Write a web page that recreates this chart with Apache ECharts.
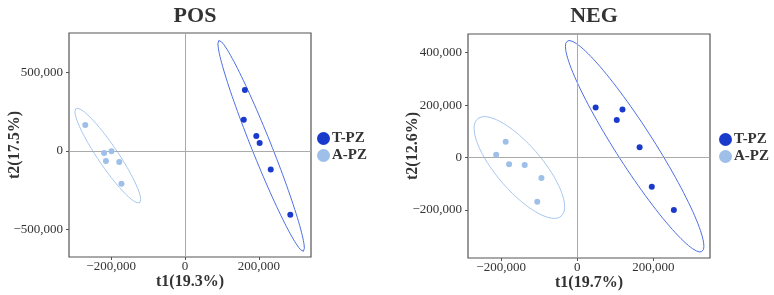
<!DOCTYPE html>
<html>
<head>
<meta charset="utf-8">
<script src="https://cdn.jsdelivr.net/npm/echarts@6/dist/echarts.min.js"></script>
<style>
  html, body { margin: 0; padding: 0; background: #fff; }
  #chart { width: 774px; height: 295px; }
</style>
</head>
<body>
<div id="chart"></div>
<script>
// score plot data (t1, t2)
const groupNames = ['T-PZ', 'A-PZ'];

const posTPZ = [[162000, 390000], [159000, 200000], [193000, 96000], [202000, 51000], [232000, -117000], [285000, -407000]];
const posAPZ = [[-270000, 166000], [-219000, -13000], [-199000, -2000], [-214000, -64000], [-178000, -70000], [-172000, -209000]];

const negTPZ = [[48500, 191000], [119000, 183500], [104000, 143000], [164000, 39000], [196000, -111000], [254000, -200000]];
const negAPZ = [[-188000, 60000], [-213000, 11000], [-179000, -26000], [-138000, -28000], [-94000, -78000], [-105000, -169000]];

// confidence ellipses: centre x, centre y, half width, half height, correlation
const posEllT = [206000, 33000, 117000, 673000, -0.97];
const posEllA = [-209000, -29000, 89000, 302000, -0.93];
const negEllT = [151000, 43000, 182000, 403000, -0.946];
const negEllA = [-152000, -38000, 119000, 194000, -0.772];

const posXTicks = [-200000, 0, 200000];
const posYTicks = [-500000, 0, 500000];
const negXTicks = [-200000, 0, 200000];
const negYTicks = [-200000, 0, 200000, 400000];

const colT = '#1a3acc';
const colA = '#9ebfe8';
const ellColT = '#4d6fe3';
const ellColA = '#a6c6ee';
const FONT = '"Liberation Serif", "DejaVu Serif", serif';

// outline of an ellipse given by its bounding extents and correlation
function ellipseLine(p) {
  const [cx, cy, wx, wy, r] = p;
  const k = Math.sqrt(1 - r * r);
  const pts = [];
  for (let i = 0; i <= 120; i++) {
    const t = (i / 120) * Math.PI * 2;
    pts.push([cx + wx * Math.cos(t), cy + wy * (r * Math.cos(t) + k * Math.sin(t))]);
  }
  return pts;
}

function fmt(v) {
  return (v < 0 ? '\u2212' : '') + Math.abs(v).toLocaleString('en-US');
}

function makeAxis(gridIndex, min, max, ticks, name, nameGap, labelMargin) {
  return {
    type: 'value',
    gridIndex,
    min,
    max,
    name,
    nameLocation: 'middle',
    nameGap,
    nameMoveOverlap: false,
    nameTextStyle: { fontFamily: FONT, fontSize: 16, fontWeight: 'bold', color: '#333' },
    axisLine: { show: false, onZero: false },
    axisTick: { show: true, length: 3, lineStyle: { color: '#555' }, customValues: ticks },
    axisLabel: {
      fontFamily: FONT, fontSize: 13, color: '#333', margin: labelMargin,
      customValues: ticks, formatter: fmt
    },
    splitLine: { show: false }
  };
}

function scatter(name, data, color, idx) {
  return {
    name, type: 'scatter', data, xAxisIndex: idx, yAxisIndex: idx,
    symbolSize: 6, itemStyle: { color, opacity: 1 }, z: 5
  };
}

function ellipse(params, color, idx) {
  return {
    type: 'line', data: ellipseLine(params), xAxisIndex: idx, yAxisIndex: idx,
    showSymbol: false, smooth: false, silent: true,
    lineStyle: { color, width: 1 }, z: 4
  };
}

function zeroLines(idx) {
  return {
    type: 'scatter', data: [], xAxisIndex: idx, yAxisIndex: idx, silent: true,
    markLine: {
      silent: true, symbol: 'none', label: { show: false },
      lineStyle: { color: '#aaa', width: 1, type: 'solid' },
      data: [{ xAxis: 0 }, { yAxis: 0 }]
    }
  };
}

function legendAt(left, top) {
  return {
    data: groupNames, orient: 'vertical', left, top,
    icon: 'circle', itemWidth: 13, itemHeight: 13, itemGap: 2,
    itemStyle: { opacity: 1 },
    textStyle: { fontFamily: FONT, fontSize: 15, fontWeight: 'bold', color: '#333', padding: [0, 0, 0, -3] }
  };
}

const chart = echarts.init(document.getElementById('chart'), null, { renderer: 'canvas' });

chart.setOption({
  animation: false,
  title: [
    { text: 'POS', left: 190, top: 0, textAlign: 'center',
      textStyle: { fontFamily: FONT, fontSize: 22, fontWeight: 'bold', color: '#333' } },
    { text: 'NEG', left: 589, top: 0, textAlign: 'center',
      textStyle: { fontFamily: FONT, fontSize: 22, fontWeight: 'bold', color: '#333' } }
  ],
  legend: [legendAt(312, 126), legendAt(714, 127)],
  grid: [
    { left: 69, top: 33, width: 242, height: 224, show: true, borderColor: '#555', borderWidth: 1.2,
      backgroundColor: 'transparent', outerBoundsMode: 'none', containLabel: false },
    { left: 468, top: 34, width: 242, height: 224, show: true, borderColor: '#555', borderWidth: 1.2,
      backgroundColor: 'transparent', outerBoundsMode: 'none', containLabel: false }
  ],
  xAxis: [
    makeAxis(0, -314000, 341000, posXTicks, 't1(19.3%)', 17, 3),
    makeAxis(1, -287000, 349000, negXTicks, 't1(19.7%)', 17, 3)
  ],
  yAxis: [
    makeAxis(0, -676000, 753000, posYTicks, 't2(17.5%)', 46, 6),
    makeAxis(1, -383000, 471000, negYTicks, 't2(12.6%)', 47, 6)
  ],
  series: [
    zeroLines(0),
    zeroLines(1),
    ellipse(posEllT, ellColT, 0),
    ellipse(posEllA, ellColA, 0),
    ellipse(negEllT, ellColT, 1),
    ellipse(negEllA, ellColA, 1),
    scatter('T-PZ', posTPZ, colT, 0),
    scatter('A-PZ', posAPZ, colA, 0),
    scatter('T-PZ', negTPZ, colT, 1),
    scatter('A-PZ', negAPZ, colA, 1)
  ]
});
</script>
</body>
</html>
